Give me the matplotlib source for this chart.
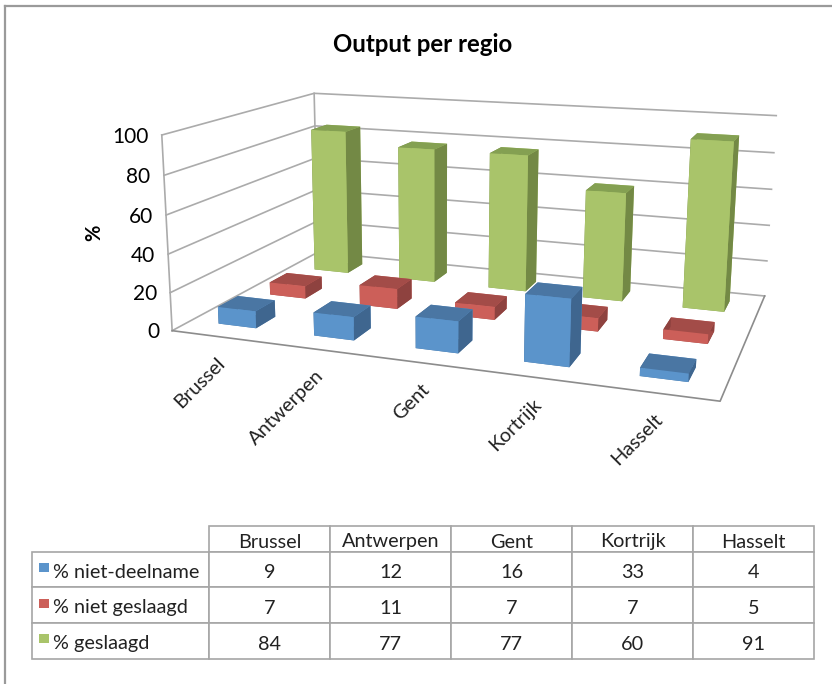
import numpy as np
import matplotlib
matplotlib.use("Agg")
import matplotlib.pyplot as plt
from matplotlib.lines import Line2D
from matplotlib.patches import Rectangle
from matplotlib.transforms import Affine2D
from mpl_toolkits.mplot3d import Axes3D  # noqa: F401

regions = ["Brussel", "Antwerpen", "Gent", "Kortrijk", "Hasselt"]
series_names = ["% niet-deelname", "% niet geslaagd", "% geslaagd"]
niet_deelname = [9, 12, 16, 33, 4]
niet_geslaagd = [7, 11, 7, 7, 5]
geslaagd = [84, 77, 77, 60, 91]
series_values = [niet_deelname, niet_geslaagd, geslaagd]
z_ticks = [0, 20, 40, 60, 80, 100]

shades = [
    dict(front="#5B94CB", top="#4A76A3", side="#3F668F"),
    dict(front="#CC5F59", top="#A34C48", side="#8E423F"),
    dict(front="#A9C46A", top="#84A052", side="#738945"),
]
swatches = ["#5B94CB", "#CC5F59", "#A9C46A"]

W, H = 832, 684
plt.rcParams["font.family"] = ["Lato", "DejaVu Sans"]
fig = plt.figure(figsize=(W / 100, H / 100), dpi=100, facecolor="white")

ax = fig.add_axes([0, 0, 1, 1], projection="3d")
ax.apply_aspect = lambda position=None: None
ax.set_position([0, 0, 1, 1])
ax.set_axis_off()
ax.patch.set_alpha(0)
ax.computed_zorder = False
ax.set_proj_type("ortho")  # no near-plane clipping; the matrix below is the camera

# Camera: perspective fitted from where the chart's box corners sit on the canvas
box_world = np.array([[0, 0, 0], [0, 0, 100], [0, 3, 0], [0, 3, 100],
                      [5, 3, 0], [5, 3, 100], [5, 0, 0]], float)
box_pixel = np.array([[173, 330], [161, 135], [317, 253], [315, 93],
                      [765, 295], [776, 116], [720, 402]], float)


def fit_camera(world, pixel):
    rows = []
    for (x, y, z), (u, v) in zip(world, pixel):
        rows.append([x, y, z, 1, 0, 0, 0, 0, -u * x, -u * y, -u * z, -u])
        rows.append([0, 0, 0, 0, x, y, z, 1, -v * x, -v * y, -v * z, -v])
    s = np.linalg.svd(np.array(rows))[2][-1]
    P = s.reshape(3, 4)
    return P / P[2, 3]


camera = fit_camera(box_world, box_pixel)


def to_px(x, y, z):
    p = camera @ np.array([x, y, z, 1.0])
    return p[0] / p[2], p[1] / p[2]


def custom_proj():
    flip = np.array([[1, 0, 0], [0, -1, H], [0, 0, 1]], float)
    to_data = ax.transData.inverted().get_matrix()
    P = to_data @ flip @ camera
    depth = [-0.02, 1.0, -0.002, 0.0]
    return np.array([P[0], P[1], depth, P[2]])


ax.get_proj = custom_proj
ax.set_xlim(0, 5)
ax.set_ylim(0, 3)
ax.set_zlim(0, 100)

GRID = "#ABABAB"
for z in z_ticks:
    ax.plot([0, 0, 5], [0, 3, 3], [z, z, z], color=GRID, lw=1.2, zorder=1)
ax.plot([0, 0], [0, 0], [0, 100], color=GRID, lw=1.2, zorder=1)
ax.plot([0, 0], [3, 3], [0, 100], color=GRID, lw=1.2, zorder=1)
ax.plot([0, 5, 5], [0, 0, 3], [0, 0, 0], color="#8C8C8C", lw=1.2, zorder=1)

bar_w, bar_d = 0.40, 0.37
order = 2
for j in range(2, -1, -1):
    for i in range(5):
        s = shades[j]
        colors = [s["top"], s["top"], s["front"], s["front"], s["side"], s["side"]]
        ax.bar3d(i + 0.295, j + 0.33, 0, bar_w, bar_d, series_values[j][i],
                 color=colors, shade=False, zorder=order, linewidth=0)
        order += 1

# overlay in canvas pixels for all text and the table
tax = fig.add_axes([0, 0, 1, 1], zorder=5)
tax.set_xlim(0, W)
tax.set_ylim(H, 0)
tax.axis("off")
tax.patch.set_alpha(0)

for z in z_ticks:
    px, py = to_px(-0.14, 0, z)
    tax.text(px, py + 3, str(z), ha="right", va="center", fontsize=15, color="black")
for i, name in enumerate(regions):
    px, py = to_px(i + 0.5, 0, 0)
    tax.text(px + 3, py + 24, name, rotation=45, rotation_mode="anchor",
             ha="right", va="center", fontsize=14.3, color="#222222")

tax.text(423, 45, "Output per regio", ha="center", va="center",
         fontsize=17.3, fontweight="bold")
tax.text(94, 233, "%", rotation=90, ha="center", va="center",
         fontsize=14.5, fontweight="bold")

left, first, right = 32, 209, 814
top, head, bottom = 526, 552, 659
col_w = [(first - left) / (right - left)] + [(right - first) / 5 / (right - left)] * 5
cell_text = [[""] + regions] + [[series_names[j]] + [str(v) for v in series_values[j]] for j in range(3)]
tbl = tax.table(cellText=cell_text, colWidths=col_w, cellLoc="center",
                bbox=[left / W, 1 - bottom / H, (right - left) / W, (bottom - top) / H])
tbl.auto_set_font_size(False)
tbl.set_fontsize(14.3)
row_h = [26, 35, 36, 36]
for (r, c), cell in tbl.get_celld().items():
    cell.set_height(row_h[r] / sum(row_h))
    cell.set_edgecolor("#A6A6A6")
    cell.set_linewidth(1.2)
    cell.get_text().set_color("#222222")
    cell.get_text().set_transform(Affine2D().translate(0, -3))
    if c == 0:
        cell.PAD = 21 / (first - left)
        cell.get_text().set_ha("left")
        cell._loc = "left"
    if r == 0 and c == 0:
        cell.visible_edges = ""

swatch_rows = [563, 599, 634]
for color, y0 in zip(swatches, swatch_rows):
    tax.add_patch(Rectangle((39, y0), 10, 9, facecolor=color, edgecolor="none"))

fig.add_artist(Line2D([5 / W, 5 / W], [0, 1 - 6 / H], color="#9A9A9A", lw=1.6))
fig.add_artist(Line2D([5 / W, 1], [1 - 6 / H, 1 - 6 / H], color="#9A9A9A", lw=1.6))

fig.savefig("out.png", dpi=100)
